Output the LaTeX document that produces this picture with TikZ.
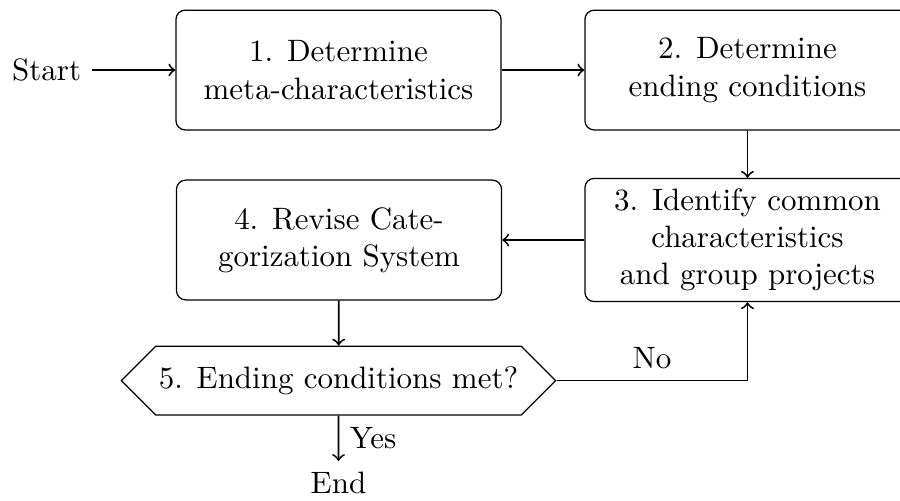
\documentclass[tikz,border=0pt]{standalone}
\usetikzlibrary{shapes.symbols}
\begin{document}
\begin{tikzpicture}[x=1cm,y=1cm,
  stage/.style={draw, rounded corners=3pt, align=center, minimum width=3.69cm, minimum height=1.36cm},
  test/.style={draw, signal, signal to=west and east, signal pointer angle=90, minimum height=0.78cm, inner xsep=1pt},
  flow/.style={->, semithick}]
\useasboundingbox (0,0) rectangle (10.215,-5.675);
\node (start) at (0.53,-0.795) {Start};
\node[stage] (meta) at (3.842,-0.795) {1. Determine\\meta-characteristics};
\node[stage] (ending) at (8.484,-0.795) {2. Determine\\ending conditions};
\node[stage] (common) at (8.484,-2.724) {3. Identify common\\characteristics\\and group projects};
\node[stage] (revise) at (3.848,-2.724) {4. Revise Cate-\\gorization System};
\node[test] (check) at (3.842,-4.319) {5. Ending conditions met?};
\node (stop) at (3.842,-5.48) {End};

\draw[flow] (start) -- (meta);
\draw[flow] (meta) -- (ending);
\draw[flow] (ending) -- (common);
\draw[flow] (common) -- (revise);
\draw[flow] (revise) -- (check);
\draw[flow] (check) -- node[right] {Yes} (stop);
\draw[flow] (check.east) -| node[pos=0.25, above] {No} (common.south);
\end{tikzpicture}
\end{document}
